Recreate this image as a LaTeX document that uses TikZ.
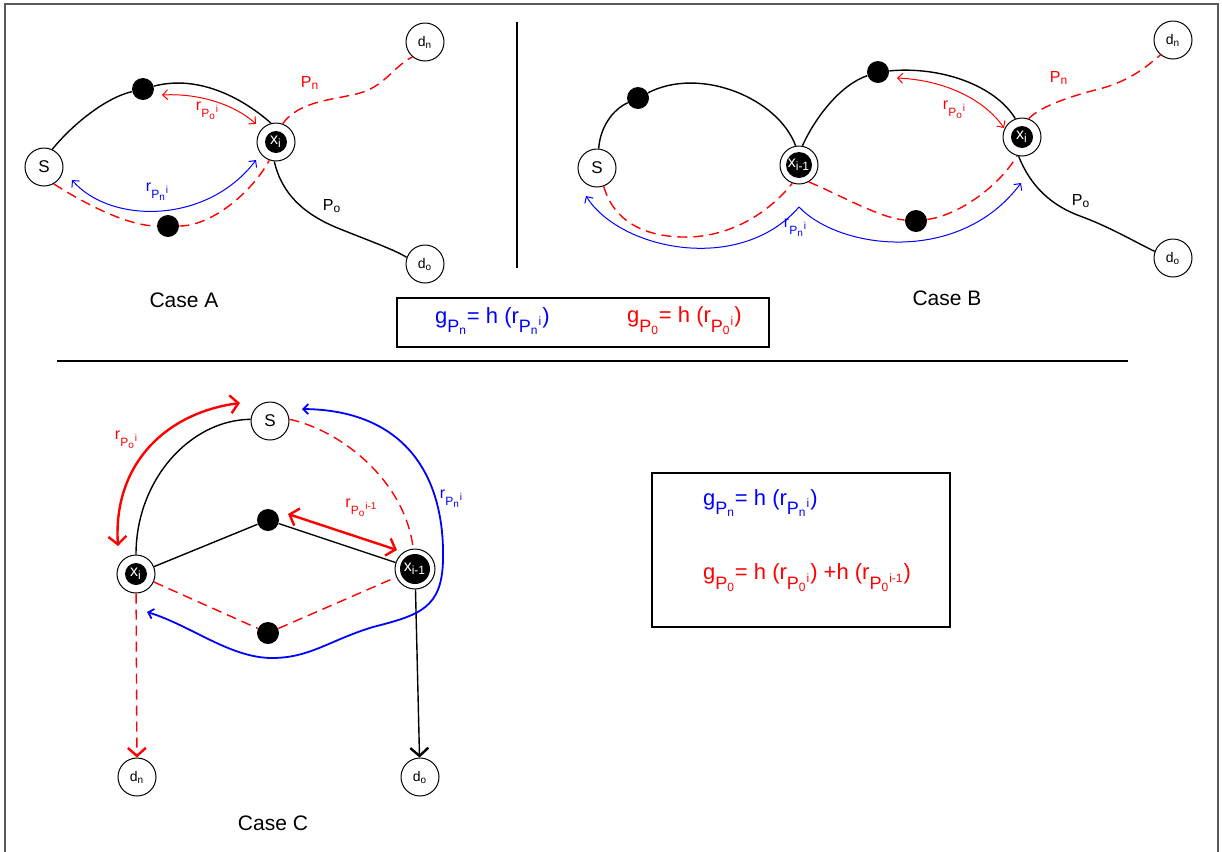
\documentclass[tikz,border=0pt]{standalone}
\usepackage{fontspec}
\setmainfont{Liberation Sans}
\usetikzlibrary{arrows.meta}
\newcommand{\lowsub}[1]{\raisebox{-0.45em}{\fontsize{9}{9}\selectfont #1}}

\begin{document}
\begin{tikzpicture}[x=0.5pt, y=-0.5pt,
  % Node styles
  endpt/.style={circle, draw, line width=0.5pt, fill=white, minimum size=19pt,
    inner sep=0pt, font=\fontsize{7}{8}\selectfont},
  srcpt/.style={endpt, font=\fontsize{8.5}{9}\selectfont},
  relay/.style={circle, draw, line width=0.5pt, fill=white, minimum size=19pt,
    inner sep=0pt, text=white, font=\fontsize{8}{9}\selectfont,
    path picture={\fill[black] (path picture bounding box.center) circle[radius=#1];}},
  relay/.default=5.5pt,
  hop/.style={circle, fill=black, minimum size=11pt, inner sep=0pt},
  % Path styles
  oldpath/.style={line width=0.7pt},
  newpath/.style={red, line width=0.7pt, dash pattern=on 5pt off 3pt},
  % Arrow styles
  thinreach/.style={<->, >={Straight Barb[length=2.5pt,width=5pt]}, line width=0.5pt},
  thickreach/.style={<->, >={Straight Barb[length=4pt,width=9pt]}, line width=1.2pt},
  bigtip/.style={-{Straight Barb[length=4pt,width=9pt,line width=1.2pt]}},
  % Text styles
  lbl/.style={font=\fontsize{8}{9}\selectfont},
  caption/.style={font=\fontsize{10.5}{12}\selectfont},
  formula/.style={font=\fontsize{11}{13}\selectfont, anchor=west},
  fbox/.style={draw, line width=0.7pt, inner sep=0pt},
]

\useasboundingbox (0,0) rectangle (1222,852);

% Frame and separators
\draw[line width=0.6pt, gray!70!black] (5,852) -- (5,4) -- (1218,4) -- (1218,852);
\draw[line width=0.6pt] (517,22) -- (517,268);
\draw[line width=0.6pt] (57,361) -- (1128,361);

% --- Case A ---
\node[srcpt] (sA) at (44,167) {S};
\node[relay] (xA) at (276,142) {x\textsubscript{i}};
\node[endpt] (dnA) at (425,42) {d\textsubscript{n}};
\node[endpt] (doA) at (425,264) {d\textsubscript{o}};
\node[hop] (uA) at (143,89) {};
\node[hop] (lA) at (168,226) {};

\draw[oldpath] (sA.65) .. controls (72,125) and (105,98) .. (uA)
  .. controls (200,74) and (245,100) .. (xA.105);
\draw[oldpath] (xA.265) .. controls (282,195) and (305,215) .. (340,229)
  .. controls (370,241) and (395,250) .. (doA.160);
\draw[newpath] (xA.70) .. controls (300,100) and (335,100) .. (360,93)
  .. controls (385,86) and (395,65) .. (dnA.230);
\draw[newpath] (sA.300) .. controls (90,207) and (130,226) .. (lA)
  .. controls (210,226) and (250,195) .. (xA.250);

\coordinate (aA1) at (162,95);
\coordinate (aA2) at (256,124);
\draw[thinreach, red] (aA1) .. controls (200,93) and (235,105) .. (aA2);
\coordinate (bA1) at (72,180);
\coordinate (bA2) at (256,160);
\draw[thinreach, blue] (bA1) .. controls (110,224) and (207,225) .. (bA2);

\node[lbl, red] (rA1) at (208,111) {r\textsubscript{P\textsubscript{o}\textsuperscript{i}}};
\node[lbl, blue] (rA2) at (158,192) {r\textsubscript{P\textsubscript{n}\textsuperscript{i}}};
\node[lbl, red] (pnA) at (310,83) {P\textsubscript{n}};
\node[lbl] (poA) at (332,206) {P\textsubscript{o}};
\node[caption] (capA) at (184,300) {Case A};

% --- Case B ---
\node[srcpt] (sB) at (597,168) {S};
\node[relay=6.5pt] (xpB) at (799,165) {x\textsubscript{i-1}};
\node[relay] (xB) at (1022,137) {x\textsubscript{i}};
\node[endpt] (dnB) at (1173,40) {d\textsubscript{n}};
\node[endpt] (doB) at (1173,258) {d\textsubscript{o}};
\node[hop] (aB) at (638,98) {};
\node[hop] (bB) at (878,72) {};
\node[hop] (cB) at (916,221) {};

\draw[oldpath] (sB.85) .. controls (600,128) and (612,110) .. (aB)
  .. controls (700,66) and (778,98) .. (xpB.100);
\draw[oldpath] (xpB.80) .. controls (815,118) and (840,85) .. (bB)
  .. controls (940,66) and (995,85) .. (xB.110);
\draw[oldpath] (xB.260) .. controls (1030,185) and (1050,205) .. (1080,216)
  .. controls (1110,227) and (1135,242) .. (doB.160);
\draw[newpath] (xB.70) .. controls (1042,105) and (1075,95) .. (1103,88)
  .. controls (1130,80) and (1145,68) .. (dnB.230);
\draw[newpath] (sB.290) .. controls (615,225) and (650,238) .. (690,237)
  .. controls (740,235) and (775,205) .. (xpB.250);
\draw[newpath] (xpB.300) .. controls (840,195) and (880,218) .. (cB)
  .. controls (960,215) and (1000,185) .. (xB.255);

\coordinate (aB1) at (897,78);
\coordinate (aB2) at (1004,128);
\draw[thinreach, red] (aB1) .. controls (945,80) and (985,100) .. (aB2);
\coordinate (bB1) at (586,196);
\coordinate (bBm) at (799,207);
\coordinate (bB2) at (1021,183);
\draw[thinreach, blue] (bB1) .. controls (620,250) and (740,275) .. (bBm)
  .. controls (840,250) and (960,265) .. (bB2);

\node[lbl, red] (rB1) at (955,110) {r\textsubscript{P\textsubscript{o}\textsuperscript{i}}};
\node[lbl, blue] (rB2) at (796,228) {r\textsubscript{P\textsubscript{n}\textsuperscript{i}}};
\node[lbl, red] (pnB) at (1059,78) {P\textsubscript{n}};
\node[lbl] (poB) at (1081,201) {P\textsubscript{o}};
\node[caption] (capB) at (947,298) {Case B};

% --- Formula box (top) ---
\node[fbox, minimum width=186pt, minimum height=24.5pt] (box1) at (583,322.5) {};
\node[formula, blue] (gn1) at (428,321)
  {g\lowsub{P\textsubscript{n}}= h (r\lowsub{P\textsubscript{n}\textsuperscript{i}})};
\node[formula, red] (go1) at (620,321)
  {g\lowsub{P\textsubscript{0}}= h (r\lowsub{P\textsubscript{0}\textsuperscript{i}})};

% --- Case C ---
\node[srcpt] (sC) at (270,421) {S};
\node[relay] (xC) at (136,574) {x\textsubscript{i}};
\node[relay=7.5pt, minimum size=20pt] (xpC) at (415,569) {x\textsubscript{i-1}};
\node[endpt] (dnC) at (137,777) {d\textsubscript{n}};
\node[endpt] (doC) at (420,777) {d\textsubscript{o}};
\node[hop] (tC) at (268,520) {};
\node[hop] (bC) at (268,633) {};

\draw[oldpath] (sC.175) .. controls (190,420) and (136,480) .. (xC.north);
\draw[oldpath] (xC) -- (tC) -- (xpC);
\draw[oldpath, bigtip] (xpC) -- (doC);
\draw[newpath] (sC.5) .. controls (340,430) and (405,480) .. (xpC.95);
\draw[newpath] (xC) -- (bC) -- (xpC);
\draw[newpath, bigtip] (xC) -- (dnC);

\coordinate (aC1) at (240,403);
\coordinate (aC2) at (118,546);
\draw[thickreach, red] (aC1) .. controls (165,413) and (113,465) .. (aC2);
\coordinate (cC1) at (288,514);
\coordinate (cC2) at (397,550);
\draw[thickreach, red] (cC1) -- (cC2);
\coordinate (bC1) at (302,409);
\coordinate (bC2) at (147,612);
\draw[<->, >={Straight Barb[length=2.5pt,width=5pt]}, blue, line width=0.9pt]
  (bC1) .. controls (400,410) and (445,470) .. (443,560)
  .. controls (442,608) and (420,615) .. (373,627)
  .. controls (330,640) and (310,658) .. (272,658)
  .. controls (230,658) and (190,625) .. (bC2);

\node[lbl, red] (rC1) at (127,440) {r\textsubscript{P\textsubscript{o}\textsuperscript{i}}};
\node[lbl, red] (rC2) at (362,508) {r\textsubscript{P\textsubscript{o}\textsuperscript{i-1}}};
\node[lbl, blue] (rC3) at (452,499) {r\textsubscript{P\textsubscript{n}\textsuperscript{i}}};
\node[caption] (capC) at (273,823) {Case C};

% --- Formula box (bottom) ---
\node[fbox, minimum width=149pt, minimum height=77pt] (box2) at (801,550) {};
\node[formula, blue] (gn2) at (696,503)
  {g\lowsub{P\textsubscript{n}}= h (r\lowsub{P\textsubscript{n}\textsuperscript{i}})};
\node[formula, red] (go2) at (696,578)
  {g\lowsub{P\textsubscript{0}}= h (r\lowsub{P\textsubscript{0}\textsuperscript{i}})
   +h (r\lowsub{P\textsubscript{0}\textsuperscript{i-1}})};

\end{tikzpicture}
\end{document}
